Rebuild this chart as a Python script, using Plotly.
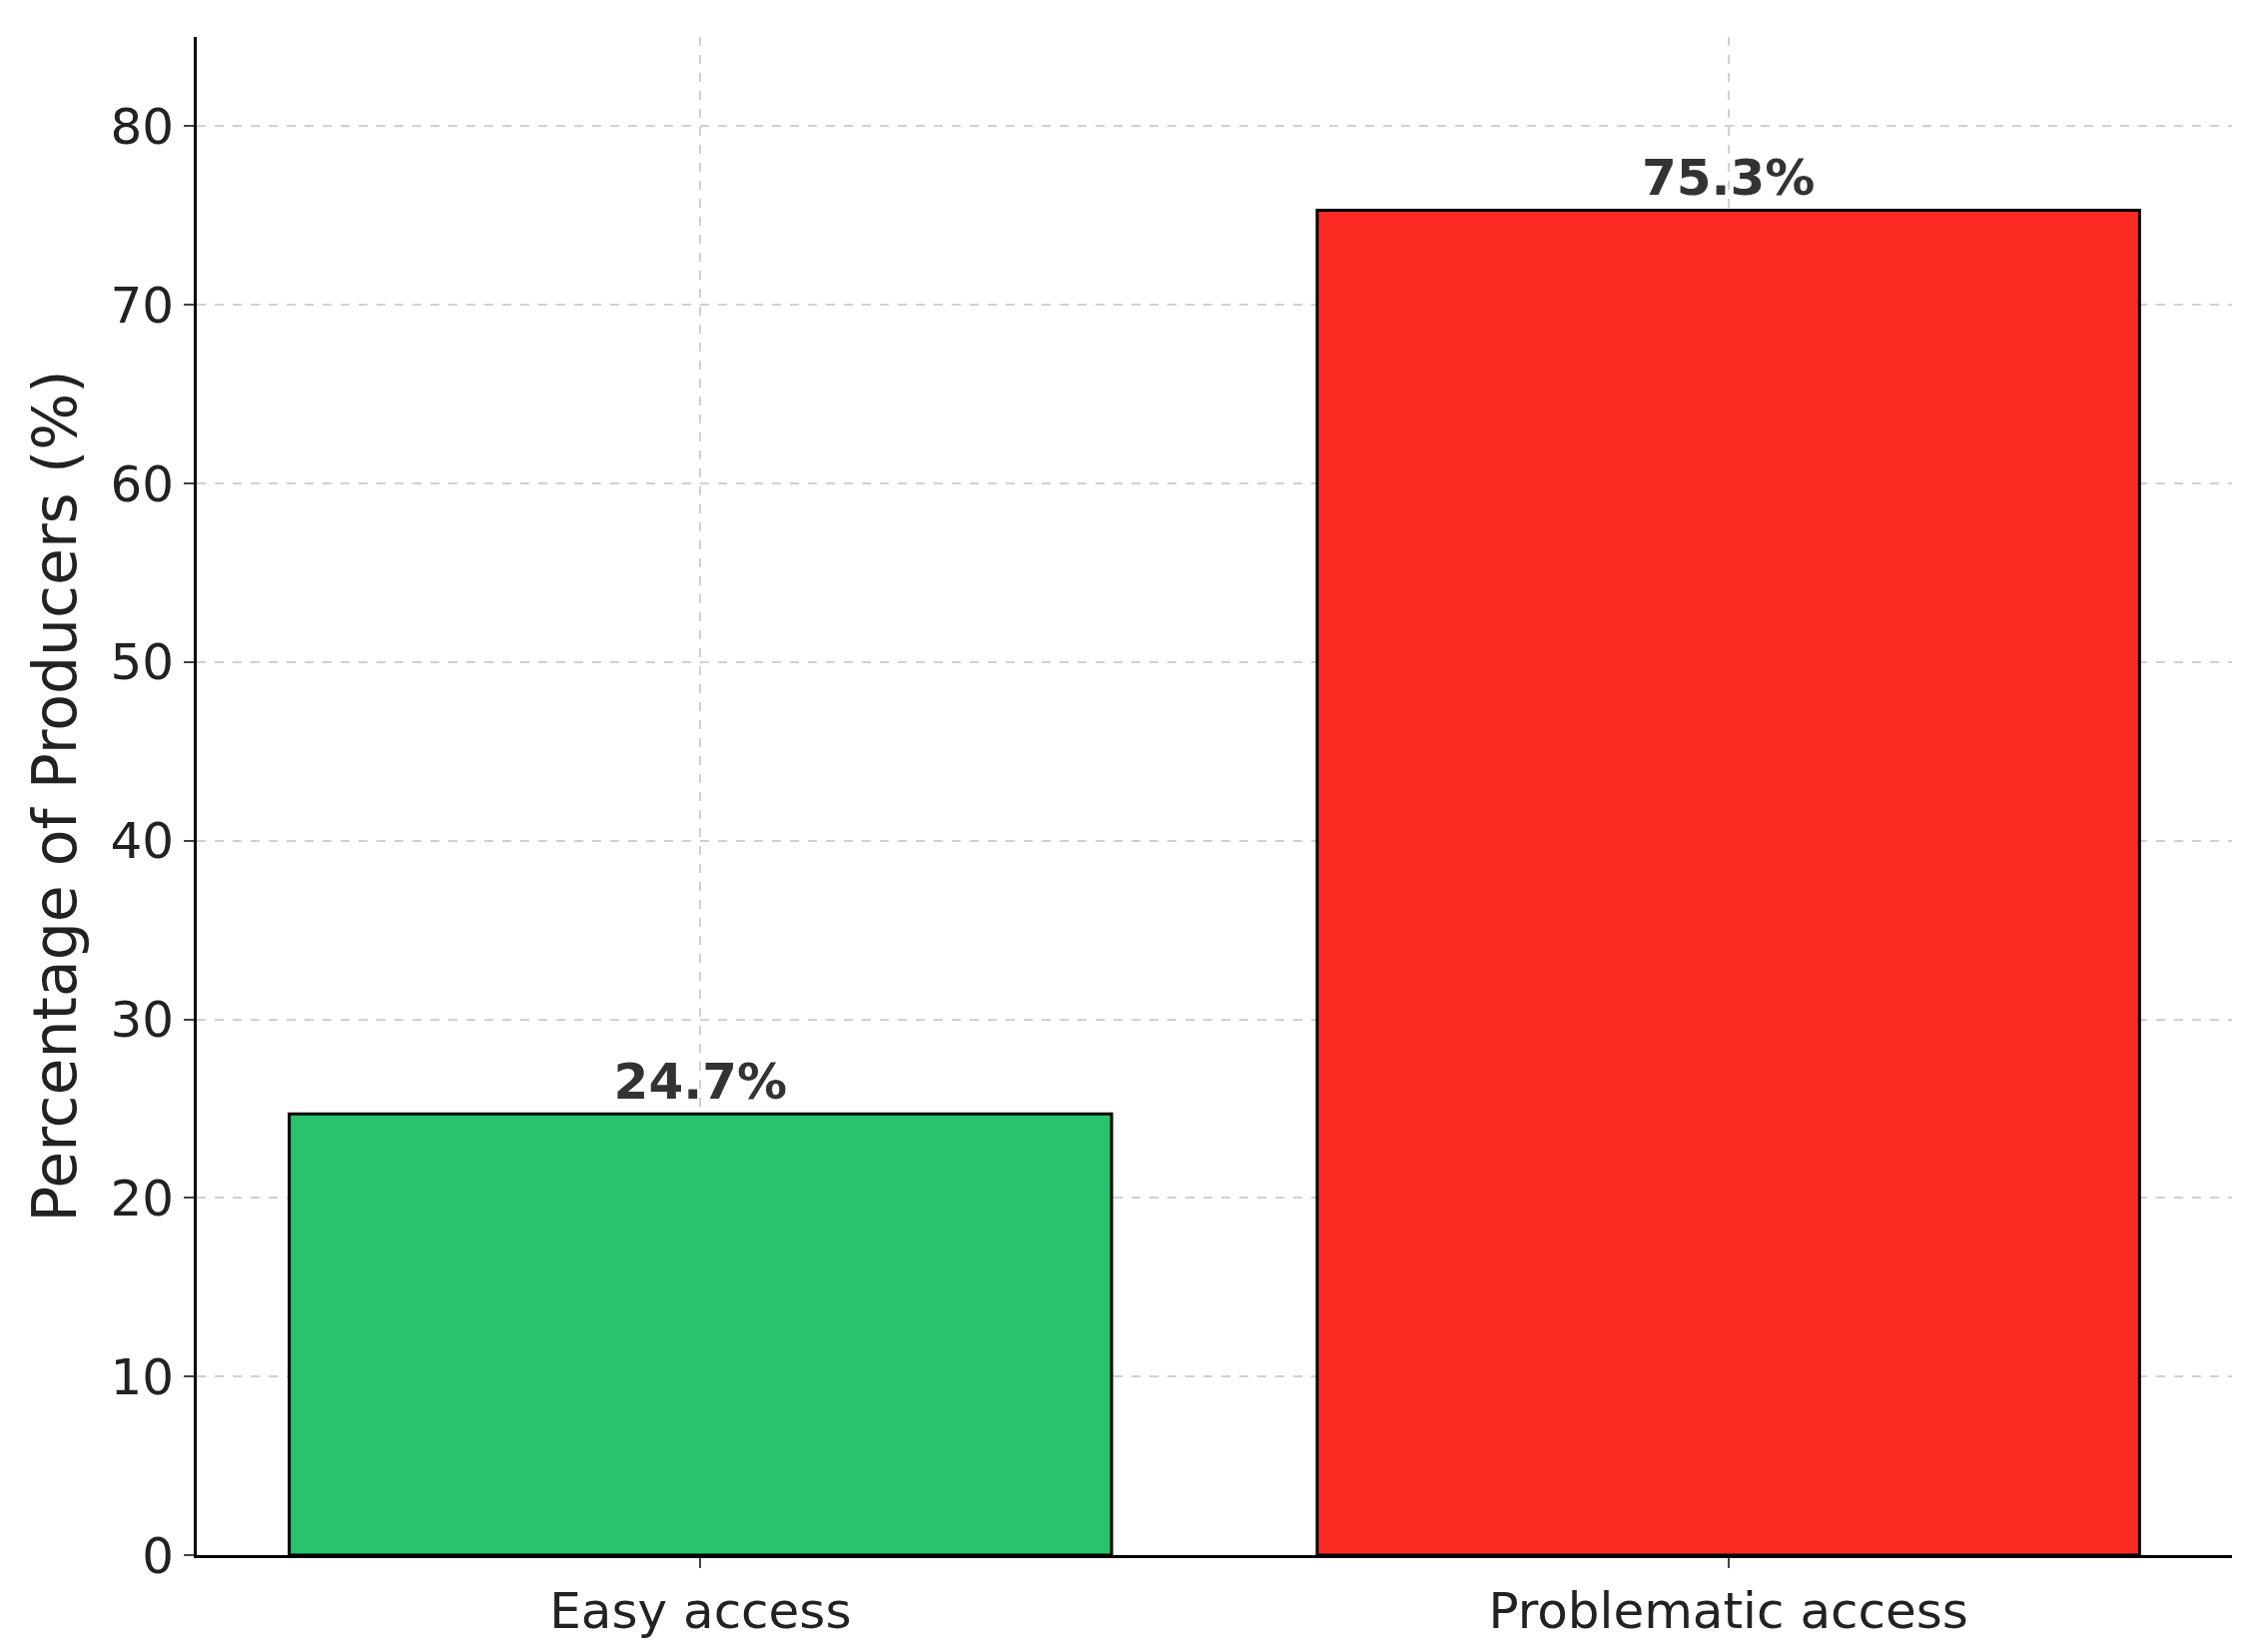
import plotly.graph_objects as go

categories = ["Easy access", "Problematic access"]
values = [24.7, 75.3]
colors = ["#27c46d", "#fe2a24"]
labels = [f"{v}%" for v in values]

fig = go.Figure(go.Bar(
    x=[0, 1], y=values, width=0.8,
    marker=dict(color=colors, line=dict(color="black", width=3)),
    text=labels, textposition="outside", cliponaxis=False,
    textfont=dict(family="DejaVu Sans", size=50, color="#333333", weight="bold"),
))
fig.update_layout(
    width=2267, height=1654, plot_bgcolor="white", paper_bgcolor="white",
    margin=dict(l=189, r=40, t=29, b=105),
    font=dict(family="DejaVu Sans", size=50, color="#222222"),
    showlegend=False,
)
fig.update_xaxes(range=[-0.49, 1.49], tickvals=[0, 1], ticktext=categories,
                 showline=True, linecolor="black", linewidth=3,
                 ticks="outside", ticklen=10, tickwidth=2,
                 showgrid=True, gridcolor="#d0d0d0", griddash="dash", gridwidth=2, zeroline=False)
fig.update_yaxes(range=[0, 85], tickvals=list(range(0, 90, 10)),
                 title=dict(text="Percentage of Producers (%)", standoff=15),
                 showline=True, linecolor="black", linewidth=3,
                 ticks="outside", ticklen=10, tickwidth=2,
                 showgrid=True, gridcolor="#d0d0d0", griddash="dash", gridwidth=2, zeroline=False)
fig.write_html("out.html")
